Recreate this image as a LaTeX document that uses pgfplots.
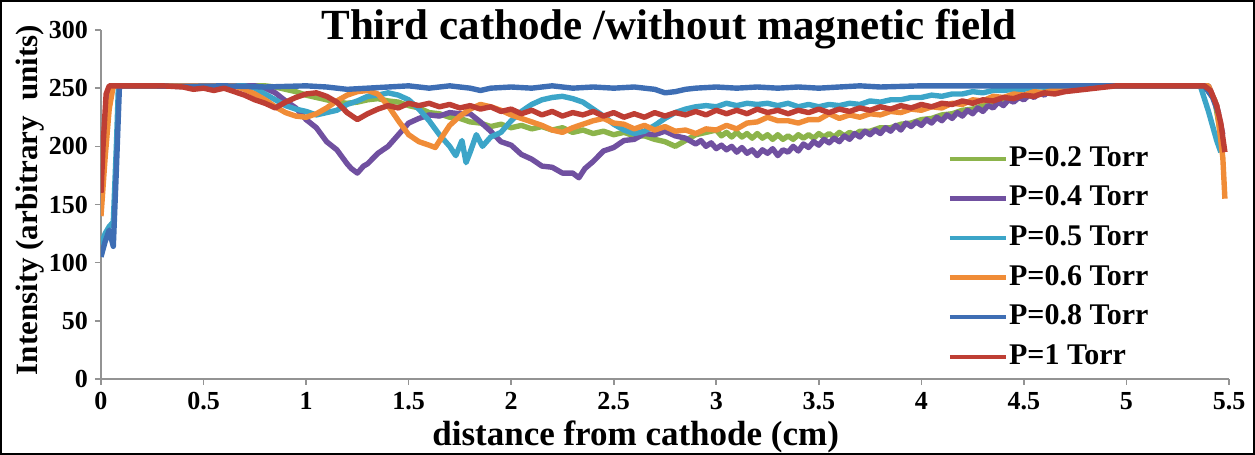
\documentclass[border=0pt]{standalone}
\usepackage{fontspec}
\setmainfont{Liberation Serif}
\usepackage{pgfplots}
\pgfplotsset{compat=1.18}

\definecolor{cGreen}{RGB}{140,180,75}
\definecolor{cPurple}{RGB}{112,80,160}
\definecolor{cAqua}{RGB}{60,165,200}
\definecolor{cOrange}{RGB}{240,140,55}
\definecolor{cBlue}{RGB}{62,110,180}
\definecolor{cRed}{RGB}{190,62,52}

\begin{document}
\begin{tikzpicture}
\useasboundingbox (-50.5pt,-38pt) rectangle (577pt,189.5pt);
\begin{axis}[
  scale only axis, width=564pt, height=174.5pt,
  xmin=0, xmax=5.5, ymin=0, ymax=300,
  xtick={0,0.5,...,5.5}, ytick={0,50,...,300},
  axis x line*=bottom, axis y line*=left,
  axis line style={draw=gray!85, line width=0.8pt},
  tick style={draw=gray!85, line width=0.8pt},
  tick align=outside, major tick length=3pt,
  /pgf/number format/assume math mode=true,
  ticklabel style={font=\bfseries\fontsize{13}{13}\selectfont},
  title={Third cathode /without magnetic field},
  title style={font=\bfseries\fontsize{21.5}{22}\selectfont,
    at={(axis description cs:0.5035,0.937)}, anchor=base},
  xlabel={distance from cathode (cm)},
  xlabel style={font=\bfseries\fontsize{17.5}{18}\selectfont,
    at={(axis description cs:0.474,-0.166)}, anchor=center},
  ylabel={Intensity (arbitrary\ \ units)},
  ylabel style={font=\bfseries\fontsize{15.5}{16}\selectfont,
    at={(axis description cs:-0.063,0.513)}, anchor=center},
  legend style={at={(0.745,0.685)}, anchor=north west, draw=none, fill=none,
    font=\bfseries\fontsize{15}{15}\selectfont, row sep=5.3pt,
    nodes={inner sep=0.5pt, text height=10.5pt, text depth=3pt}},
  legend cell align=left,
  legend image code/.code={\draw[#1, line width=2.2pt] (0pt,0pt) -- (28pt,0pt);},
  every axis plot/.append style={line width=2.7pt, line join=round},
]
% P = 0.2 Torr
\addplot[cGreen] table {
0 170
0.02 215
0.04 245
0.06 252
0.4 252
0.8 252
0.85 251
0.9 249
0.95 247
1.0 244
1.05 242
1.1 240
1.15 238
1.2 237
1.25 238
1.3 240
1.35 241
1.4 239
1.45 238
1.5 235
1.55 233
1.6 229
1.65 228
1.7 225
1.75 224
1.8 221
1.85 220
1.9 217
1.95 219
2.0 216
2.05 218
2.1 215
2.15 217
2.2 214
2.25 216
2.3 212
2.35 214
2.4 211
2.45 213
2.5 210
2.55 212
2.6 209
2.65 209
2.7 206
2.75 204
2.8 200
2.85 205
2.9 210
2.95 212
3.0 214
3.025 209
3.05 212
3.075 208
3.1 212
3.125 208
3.15 211
3.175 207
3.2 211
3.225 207
3.25 210
3.275 206
3.3 210
3.325 206
3.35 209
3.375 206
3.4 210
3.425 207
3.45 210
3.475 207
3.5 211
3.525 208
3.55 211
3.575 208
3.6 212
3.625 209
3.65 212
3.675 210
3.7 213
3.75 213
3.8 216
3.85 216
3.9 219
3.95 220
4.0 223
4.05 224
4.1 227
4.15 228
4.2 231
4.25 232
4.3 235
4.35 236
4.4 239
4.45 240
4.5 243
4.55 244
4.6 247
4.65 248
4.7 251
4.75 252
5.0 252
5.38 252
5.43 240
5.47 200
};
\addlegendentry{P=0.2 Torr}
% P = 0.4 Torr
\addplot[cPurple] table {
0 150
0.03 230
0.05 252
0.4 252
0.75 252
0.8 250
0.85 246
0.9 239
0.95 233
1.0 223
1.05 216
1.1 204
1.15 197
1.2 185
1.22 181
1.25 177
1.28 183
1.3 185
1.35 194
1.4 200
1.45 210
1.5 220
1.55 224
1.6 227
1.65 226
1.7 229
1.75 228
1.8 228
1.85 221
1.9 213
1.95 204
2.0 201
2.05 193
2.1 189
2.15 183
2.2 182
2.25 177
2.3 177
2.33 173
2.36 181
2.4 187
2.45 196
2.5 199
2.55 205
2.6 206
2.65 211
2.7 210
2.75 213
2.8 209
2.85 207
2.9 202
2.925 205
2.95 200
2.975 203
3.0 198
3.025 201
3.05 197
3.075 200
3.1 195
3.125 199
3.15 194
3.175 197
3.2 192
3.225 197
3.25 194
3.275 198
3.3 192
3.325 197
3.35 195
3.375 200
3.4 196
3.425 202
3.45 199
3.475 204
3.5 201
3.525 206
3.55 203
3.575 207
3.6 204
3.625 209
3.65 206
3.675 211
3.7 208
3.725 213
3.75 210
3.775 214
3.8 211
3.825 216
3.85 213
3.875 218
3.9 214
3.925 220
3.95 217
3.975 221
4.0 218
4.025 223
4.05 220
4.075 225
4.1 222
4.125 227
4.15 224
4.175 229
4.2 226
4.225 231
4.25 228
4.275 233
4.3 230
4.325 235
4.35 233
4.375 238
4.4 235
4.425 240
4.45 238
4.475 242
4.5 240
4.525 244
4.55 242
4.575 246
4.6 244
4.625 248
4.65 246
4.675 249
4.7 248
4.75 250
4.8 251
4.85 252
5.0 252
5.4 252
5.44 235
5.47 210
};
\addlegendentry{P=0.4 Torr}
% P = 0.5 Torr
\addplot[cAqua] table {
0 115
0.02 125
0.04 131
0.06 135
0.075 200
0.085 252
0.4 252
0.7 252
0.75 250
0.8 245
0.85 240
0.9 235
0.95 232
1.0 230
1.05 227
1.1 229
1.15 231
1.2 236
1.25 239
1.3 243
1.35 244
1.4 246
1.45 244
1.5 240
1.55 232
1.6 222
1.65 210
1.7 200
1.73 192
1.76 205
1.78 186
1.8 195
1.83 210
1.86 200
1.9 208
1.95 212
2.0 222
2.05 230
2.1 236
2.15 240
2.2 242
2.25 243
2.3 241
2.35 238
2.4 232
2.45 226
2.5 219
2.55 214
2.6 211
2.65 213
2.7 218
2.75 224
2.8 229
2.85 232
2.9 234
2.95 235
3.0 234
3.05 237
3.1 235
3.15 237
3.2 236
3.25 237
3.3 235
3.35 237
3.4 234
3.45 236
3.5 234
3.55 236
3.6 235
3.65 237
3.7 236
3.75 239
3.8 238
3.85 240
3.9 240
3.95 242
4.0 242
4.05 244
4.1 243
4.15 245
4.2 245
4.25 247
4.3 246
4.35 248
4.4 248
4.45 249
4.5 249
4.55 251
4.6 251
4.65 252
5.0 252
5.36 252
5.4 230
5.44 205
5.46 195
};
\addlegendentry{P=0.5 Torr}
% P = 0.6 Torr
\addplot[cOrange] table {
0 140
0.02 190
0.04 232
0.06 252
0.4 252
0.65 252
0.7 249
0.75 245
0.8 240
0.85 234
0.9 229
0.95 226
1.0 225
1.05 228
1.1 233
1.15 239
1.2 244
1.25 247
1.3 248
1.35 245
1.4 235
1.45 222
1.5 210
1.55 204
1.6 201
1.63 199
1.67 210
1.7 218
1.75 226
1.8 232
1.85 236
1.9 234
1.95 231
2.0 227
2.05 224
2.1 221
2.15 218
2.2 214
2.25 212
2.3 216
2.35 219
2.4 222
2.45 224
2.5 220
2.55 219
2.6 215
2.65 218
2.7 214
2.75 217
2.8 213
2.85 214
2.9 211
2.95 215
3.0 214
3.05 218
3.1 215
3.15 220
3.2 221
3.25 225
3.3 222
3.35 222
3.4 220
3.45 223
3.5 223
3.55 228
3.6 224
3.65 227
3.7 225
3.75 228
3.8 227
3.85 230
3.9 229
3.95 232
4.0 231
4.05 234
4.1 233
4.15 237
4.2 236
4.25 240
4.3 239
4.35 243
4.4 242
4.45 245
4.5 244
4.55 247
4.6 246
4.65 249
4.7 250
4.75 252
5.0 252
5.4 252
5.44 235
5.47 190
5.48 155
};
\addlegendentry{P=0.6 Torr}
% P = 0.8 Torr
\addplot[cBlue] table {
0 105
0.02 118
0.04 128
0.06 114
0.075 180
0.09 252
0.2 252
0.4 251.5
0.6 252
0.8 251
1.0 252
1.1 251
1.2 249
1.3 250
1.4 251
1.5 252
1.6 250
1.7 252
1.8 250
1.85 248
1.9 250
2.0 251
2.1 250
2.2 252
2.3 250
2.4 251
2.5 250
2.6 251
2.7 249
2.75 246
2.8 247
2.85 249
2.9 250
3.0 251
3.1 250
3.2 251
3.3 250
3.4 251
3.5 250
3.6 251
3.7 252
3.8 251
4.0 252
4.5 252
5.0 252
5.38 252
5.42 242
5.45 228
};
\addlegendentry{P=0.8 Torr}
% P = 1 Torr
\addplot[cRed] table {
0 160
0.01 200
0.025 245
0.04 252
0.2 252
0.3 252
0.4 251
0.45 249
0.5 250
0.55 248
0.6 250
0.65 247
0.7 244
0.75 240
0.8 237
0.85 233
0.9 238
0.95 242
1.0 245
1.05 246
1.1 243
1.15 238
1.2 229
1.25 223
1.3 228
1.35 232
1.4 235
1.45 233
1.5 237
1.55 235
1.6 237
1.65 234
1.7 236
1.75 233
1.8 235
1.85 232
1.9 234
1.95 230
2.0 232
2.05 228
2.1 231
2.15 227
2.2 230
2.25 226
2.3 229
2.35 227
2.4 230
2.45 226
2.5 229
2.55 225
2.6 228
2.65 225
2.7 229
2.75 226
2.8 229
2.85 227
2.9 230
2.95 227
3.0 231
3.05 228
3.1 231
3.15 228
3.2 232
3.25 229
3.3 231
3.35 228
3.4 231
3.45 229
3.5 232
3.55 229
3.6 232
3.65 230
3.7 233
3.75 231
3.8 234
3.85 232
3.9 235
3.95 233
4.0 236
4.05 234
4.1 237
4.15 236
4.2 239
4.25 237
4.3 240
4.35 239
4.4 242
4.45 241
4.5 244
4.55 243
4.6 246
4.65 245
4.7 247
4.75 248
4.8 249
4.85 250
4.9 251
4.95 252
5.0 252
5.38 252
5.41 248
5.44 235
5.46 220
5.48 195
};
\addlegendentry{P=1 Torr}
\end{axis}
\draw[black, line width=1pt] (-50pt,-37.5pt) rectangle (576.5pt,189pt);
\end{tikzpicture}
\end{document}
